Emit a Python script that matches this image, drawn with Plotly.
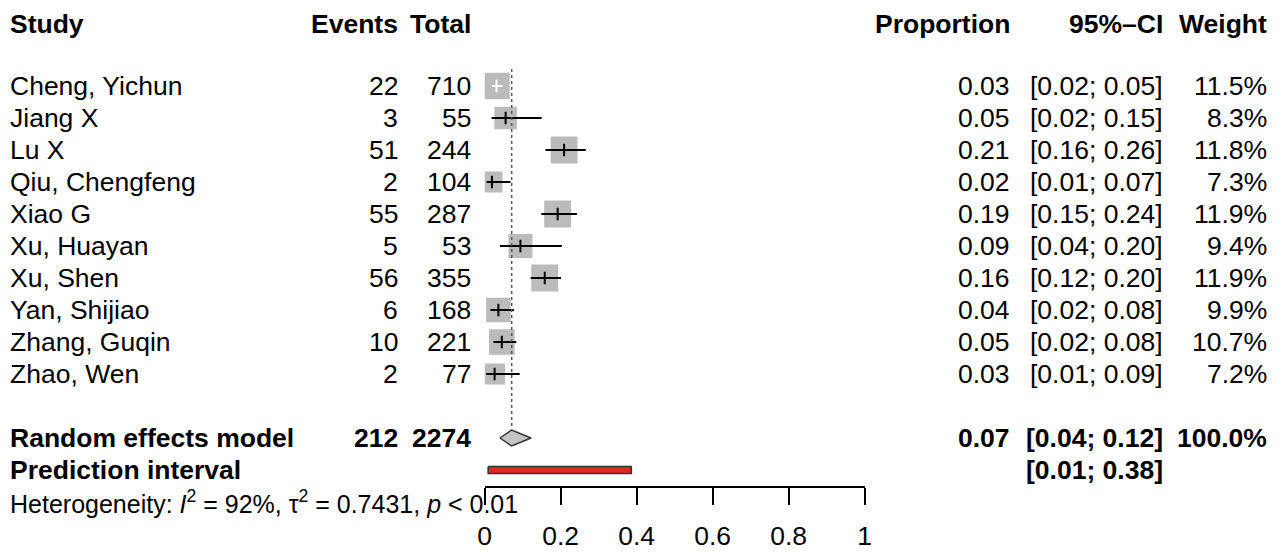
import plotly.graph_objects as go
import math

# ---------------- data ----------------
studies = ["Cheng, Yichun", "Jiang X", "Lu X", "Qiu, Chengfeng", "Xiao G",
           "Xu, Huayan", "Xu, Shen", "Yan, Shijiao", "Zhang, Guqin", "Zhao, Wen"]
events = [22, 3, 51, 2, 55, 5, 56, 6, 10, 2]
totals = [710, 55, 244, 104, 287, 53, 355, 168, 221, 77]
prop = [0.031, 0.055, 0.209, 0.019, 0.192, 0.094, 0.158, 0.036, 0.045, 0.026]
ci_lo = [0.019, 0.018, 0.160, 0.005, 0.149, 0.040, 0.121, 0.015, 0.023, 0.004]
ci_hi = [0.047, 0.150, 0.266, 0.068, 0.243, 0.203, 0.201, 0.077, 0.083, 0.092]
weights = [11.5, 8.3, 11.8, 7.3, 11.9, 9.4, 11.9, 9.9, 10.7, 7.2]
prop_lbl = ["0.03", "0.05", "0.21", "0.02", "0.19", "0.09", "0.16", "0.04", "0.05", "0.03"]
ci_lbl = ["[0.02; 0.05]", "[0.02; 0.15]", "[0.16; 0.26]", "[0.01; 0.07]", "[0.15; 0.24]",
          "[0.04; 0.20]", "[0.12; 0.20]", "[0.02; 0.08]", "[0.02; 0.08]", "[0.01; 0.09]"]
weight_lbl = ["11.5%", "8.3%", "11.8%", "7.3%", "11.9%", "9.4%", "11.9%", "9.9%", "10.7%", "7.2%"]

re_events, re_total = 212, 2274
re_est, re_lo, re_hi = 0.071, 0.040, 0.122
re_prop_lbl, re_ci_lbl, re_w_lbl = "0.07", "[0.04; 0.12]", "100.0%"
pi_lo, pi_hi = 0.009, 0.386
pi_lbl = "[0.01; 0.38]"
xticks = [0, 0.2, 0.4, 0.6, 0.8, 1]
xtick_lbl = ["0", "0.2", "0.4", "0.6", "0.8", "1"]
het_text = "Heterogeneity: <i>I</i><sup>2</sup> = 92%, τ<sup>2</sup> = 0.7431, <i>p</i> < 0.01"

# ---------------- layout constants ----------------
W, H = 1284, 554
FONT = "Liberation Sans, Arial, Helvetica, sans-serif"
FS = 26.5
# observed page placement of the figure in the viewer (offset / scale)
OFF_X, SCALE_X, OFF_Y = 14.1, 0.98947, 8
X0_PX, X1_PX = 484, 864          # target pixel of 0 and 1 on forest axis
ROW0_PX, ROW_STEP = 86, 32       # target pixel centre of first row, row spacing
AXIS_PX = 487


def px2k(py):
    return (py - ROW0_PX) / ROW_STEP


def xp(px):
    return ((px - OFF_X) / SCALE_X) / W


n = len(studies)
rows = list(range(n))
k_re, k_pi, k_het = n + 1, n + 2, n + 3
k_head = px2k(24)

fig = go.Figure()

# squares (area proportional to weight)
max_side = 26.5
sides = [max_side * math.sqrt(w / 11.5) for w in weights]
fig.add_trace(go.Scatter(
    x=prop, y=rows, mode="markers", xaxis="x2", yaxis="y",
    marker=dict(symbol="square", size=sides, color="#BBBBBB", opacity=1, line=dict(width=0)),
    hoverinfo="skip", showlegend=False))

# CI lines, white if entirely inside the square
units_per_px = 1.0 / (X1_PX - X0_PX)
inside = [(p - lo) < s / 2 * units_per_px and (hi - p) < s / 2 * units_per_px
          for p, lo, hi, s in zip(prop, ci_lo, ci_hi, sides)]
for flag, col in [(False, "black"), (True, "white")]:
    xs, ys, ex, ey = [], [], [], []
    for i in range(n):
        if inside[i] == flag:
            xs += [ci_lo[i], ci_hi[i], None]
            ys += [i, i, None]
            ex.append(prop[i])
            ey.append(i)
    if ex:
        fig.add_trace(go.Scatter(x=xs, y=ys, mode="lines", xaxis="x2", yaxis="y",
                                 line=dict(color=col, width=2), hoverinfo="skip", showlegend=False))
        fig.add_trace(go.Scatter(x=ex, y=ey, mode="markers", xaxis="x2", yaxis="y",
                                 marker=dict(symbol="line-ns", size=9, line=dict(color=col, width=2)),
                                 hoverinfo="skip", showlegend=False))

# reference dotted line at pooled estimate
fig.add_trace(go.Scatter(x=[re_est, re_est], y=[px2k(69), px2k(427)], mode="lines",
                         xaxis="x2", yaxis="y",
                         line=dict(color="#555555", width=1.5, dash="dot"),
                         hoverinfo="skip", showlegend=False))

# diamond
dh = 8 / ROW_STEP
fig.add_trace(go.Scatter(x=[re_lo, re_est, re_hi, re_est, re_lo],
                         y=[k_re, k_re - dh, k_re, k_re + dh, k_re],
                         mode="lines", fill="toself", fillcolor="#C4C4C4",
                         xaxis="x2", yaxis="y",
                         line=dict(color="#333333", width=1.5),
                         hoverinfo="skip", showlegend=False))

# prediction interval bar
ph = 3.5 / ROW_STEP
fig.add_trace(go.Scatter(x=[pi_lo, pi_hi, pi_hi, pi_lo, pi_lo],
                         y=[k_pi - ph, k_pi - ph, k_pi + ph, k_pi + ph, k_pi - ph],
                         mode="lines", fill="toself", fillcolor="#E0281E",
                         xaxis="x2", yaxis="y",
                         line=dict(color="#333333", width=1.5),
                         hoverinfo="skip", showlegend=False))

# ---------------- text ----------------
ann = []


def txt(text, px, k, anchor, bold=False, size=FS):
    adj = -3 if anchor == "left" else 2
    ann.append(dict(text=f"<b>{text}</b>" if bold else text, x=xp(px + adj), y=k,
                    xref="paper", yref="y", xanchor=anchor, yanchor="middle",
                    showarrow=False, font=dict(family=FONT, size=size, color="black")))


COL_STUDY, COL_EV, COL_TOT = 10, 397, 470
COL_PROP, COL_CI, COL_W = 1009, 1163, 1267

# headers
txt("Study", COL_STUDY, k_head, "left", True)
txt("Events", COL_EV, k_head, "right", True)
txt("Total", COL_TOT, k_head, "right", True)
txt("Proportion", COL_PROP, k_head, "right", True)
txt("95%–CI", COL_CI, k_head, "right", True)
txt("Weight", COL_W, k_head, "right", True)

for i in range(n):
    txt(studies[i], COL_STUDY, i, "left")
    txt(str(events[i]), COL_EV, i, "right")
    txt(str(totals[i]), COL_TOT, i, "right")
    txt(prop_lbl[i], COL_PROP, i, "right")
    txt(ci_lbl[i], COL_CI, i, "right")
    txt(weight_lbl[i], COL_W, i, "right")

txt("Random effects model", COL_STUDY, k_re, "left", True)
txt(str(re_events), COL_EV, k_re, "right", True)
txt(str(re_total), COL_TOT, k_re, "right", True)
txt(re_prop_lbl, COL_PROP, k_re, "right", True)
txt(re_ci_lbl, COL_CI, k_re, "right", True)
txt(re_w_lbl, COL_W, k_re, "right", True)

txt("Prediction interval", COL_STUDY, k_pi, "left", True)
txt(pi_lbl, COL_CI, k_pi, "right", True)

txt(het_text, COL_STUDY, k_het, "left", size=25)

# ---------------- axes ----------------
y_top = px2k(0 + OFF_Y)
y_bot = px2k(H + OFF_Y)
fig.update_layout(
    width=W, height=H,
    margin=dict(l=0, r=0, t=0, b=0),
    paper_bgcolor="white", plot_bgcolor="rgba(0,0,0,0)",
    showlegend=False,
    xaxis=dict(visible=False, range=[0, 1], domain=[0, 1]),
    xaxis2=dict(domain=[xp(X0_PX), xp(X1_PX)], range=[0, 1], anchor="free",
                position=(H - (AXIS_PX - OFF_Y)) / H,
                showgrid=False, zeroline=False,
                showline=True, linecolor="black", linewidth=1.5,
                ticks="outside", ticklen=17, tickwidth=1.5, tickcolor="black",
                ticklabelstandoff=8,
                tickvals=xticks, ticktext=xtick_lbl,
                tickfont=dict(family=FONT, size=FS, color="black")),
    yaxis=dict(visible=False, range=[y_bot, y_top], domain=[0, 1]),
    annotations=ann,
)

fig.write_html("out.html")
